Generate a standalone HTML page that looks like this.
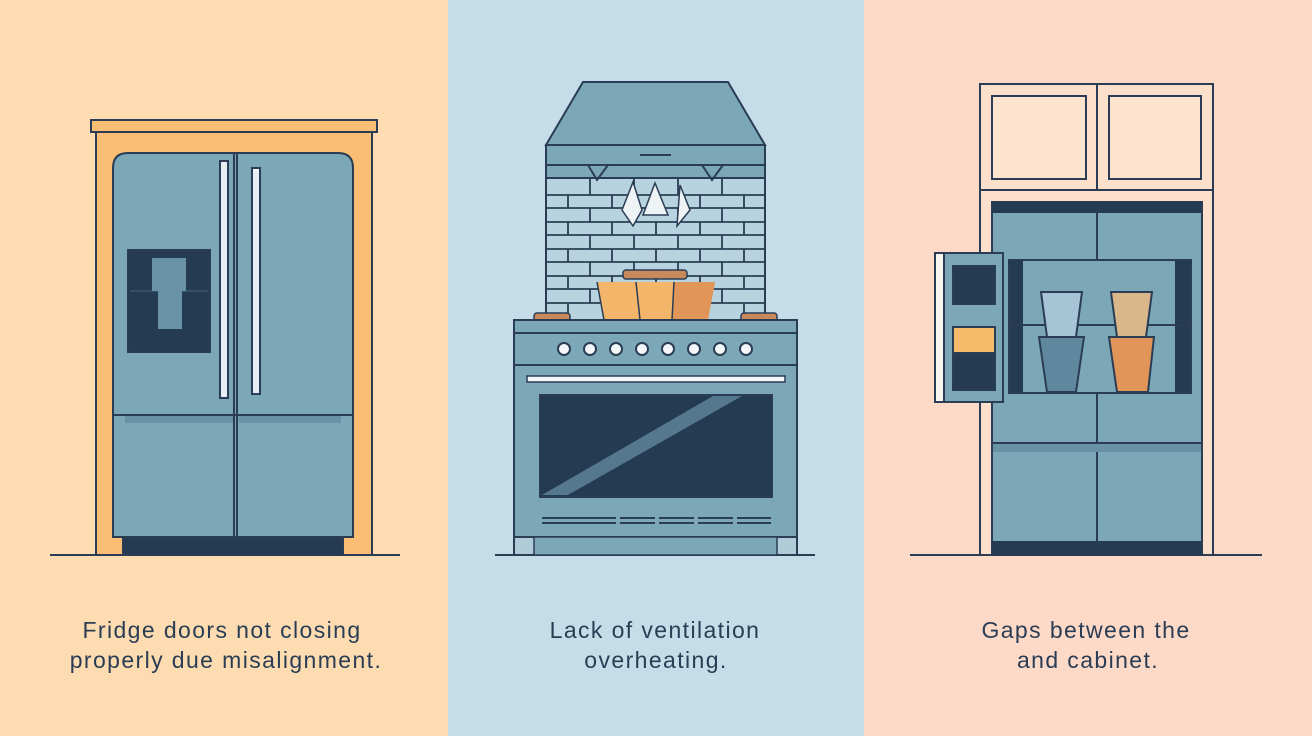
<!DOCTYPE html>
<html><head><meta charset="utf-8"><style>
body{margin:0;width:1312px;height:736px;overflow:hidden;font-family:"Liberation Sans",sans-serif}
</style></head><body>
<svg width="1312" height="736" viewBox="0 0 1312 736" xmlns="http://www.w3.org/2000/svg">
<rect x="0" y="0" width="448" height="736" fill="#fcdcb0"/>
<rect x="448" y="0" width="416" height="736" fill="#c4dde8"/>
<rect x="864" y="0" width="448" height="736" fill="#fdd9c8"/>
<g stroke="#2a3d55" stroke-width="2">
<!-- Panel 1 -->
<line x1="50" y1="555" x2="400" y2="555"/>
<rect x="96" y="132" width="276" height="423" fill="#f9bd74"/>
<rect x="91" y="120" width="286" height="12" fill="#f9bd74"/>
<path d="M113 537 V168 Q113 153 128 153 H338 Q353 153 353 168 V537 Z" fill="#7ba7b7"/>
<line x1="113" y1="415" x2="353" y2="415"/>
<line x1="234" y1="153" x2="234" y2="537"/><line x1="237" y1="153" x2="237" y2="537"/>
<rect x="125" y="416" width="108" height="7" fill="#6a92a6" stroke="none"/>
<rect x="239" y="416" width="102" height="7" fill="#6a92a6" stroke="none"/>
<rect x="220" y="161" width="8" height="237" fill="#e8eef4"/>
<rect x="252" y="168" width="8" height="226" fill="#e8eef4"/>
<rect x="128" y="250" width="82" height="102" fill="#243b52"/>
<line x1="130" y1="291" x2="208" y2="291" stroke="#3d5670" stroke-width="1.5"/>
<rect x="152" y="258" width="34" height="33" fill="#6a92a6" stroke="none"/>
<rect x="158" y="291" width="24" height="38" fill="#6a92a6" stroke="none"/>
<rect x="123" y="537" width="220" height="18" fill="#243b52"/>
<!-- Panel 2 -->
<line x1="495" y1="555" x2="815" y2="555"/>
<rect x="546" y="178" width="219" height="142" fill="#b8d3e0"/>
<g stroke-width="1.8">
<line x1="546" y1="195" x2="765" y2="195"/><line x1="546" y1="208" x2="765" y2="208"/>
<line x1="546" y1="222" x2="765" y2="222"/><line x1="546" y1="235" x2="765" y2="235"/>
<line x1="546" y1="249" x2="765" y2="249"/><line x1="546" y1="262" x2="765" y2="262"/>
<line x1="546" y1="276" x2="765" y2="276"/><line x1="546" y1="289" x2="765" y2="289"/>
<line x1="546" y1="303" x2="765" y2="303"/>
<path d="M590 178v17M634 178v17M678 178v17M722 178v17M568 195v13M612 195v13M656 195v13M700 195v13M744 195v13M590 208v14M634 208v14M678 208v14M722 208v14M568 222v13M612 222v13M656 222v13M700 222v13M744 222v13M590 235v14M634 235v14M678 235v14M722 235v14M568 249v13M612 249v13M656 249v13M700 249v13M744 249v13M590 262v14M634 262v14M678 262v14M722 262v14M568 276v13M612 276v13M656 276v13M700 276v13M744 276v13M590 289v14M634 289v14M678 289v14M722 289v14M568 303v17M744 303v17"/>
</g>
<path d="M583 82 H728 L765 145 H546 Z" fill="#7ba7b7"/>
<rect x="546" y="145" width="219" height="20" fill="#7ba7b7"/>
<rect x="546" y="165" width="219" height="13" fill="#7ba7b7"/>
<line x1="640" y1="155" x2="671" y2="155"/>
<path d="M588 165 L597 180 L608 165 M702 165 L712 180 L723 165" fill="none"/>
<g fill="#eef3f6" stroke-width="1.5">
<path d="M633 182 L622 210 L633 226 L642 210 Z"/><path d="M655 183 L643 215 L668 215 Z"/><path d="M680 185 L677 226 L690 210 Z"/>
</g>
<path d="M597 282 H715 L708 320 H604 Z" fill="#f3b56a" stroke="none"/>
<path d="M673 282 H715 L708 320 H672 Z" fill="#e29558" stroke="none"/>
<path d="M597 282 L604 320 M636 282 L640 320 M674 282 L672 320" fill="none" stroke-width="1.5"/>
<rect x="623" y="270" width="64" height="9" rx="3" fill="#c88a5a" stroke-width="1.5"/>
<rect x="534" y="313" width="36" height="9" rx="3" fill="#c88a5a" stroke-width="1.5"/>
<rect x="741" y="313" width="36" height="9" rx="3" fill="#c88a5a" stroke-width="1.5"/>
<rect x="514" y="320" width="283" height="217" fill="#7ba7b7"/>
<line x1="514" y1="333" x2="797" y2="333"/><line x1="514" y1="365" x2="797" y2="365"/>
<g fill="#f4f7f9"><circle cx="564" cy="349" r="6"/><circle cx="590" cy="349" r="6"/><circle cx="616" cy="349" r="6"/><circle cx="642" cy="349" r="6"/><circle cx="668" cy="349" r="6"/><circle cx="694" cy="349" r="6"/><circle cx="720" cy="349" r="6"/><circle cx="746" cy="349" r="6"/></g>
<rect x="527" y="376" width="258" height="6" fill="#f4f7f9" stroke-width="1.5"/>
<rect x="540" y="395" width="232" height="102" fill="#243b52"/>
<path d="M542 495 L713 396 L742 396 L568 495 Z" fill="#56788f" stroke="none"/>
<g stroke-width="2"><path d="M542 518h40M542 523h40M581 518h35M581 523h35M620 518h35M620 523h35M659 518h35M659 523h35M698 518h35M698 523h35M737 518h34M737 523h34"/></g>
<rect x="514" y="537" width="283" height="18" fill="#b0ccd9"/>
<rect x="534" y="537" width="243" height="18" fill="#7ba7b7" stroke-width="1.5"/>
<!-- Panel 3 -->
<line x1="910" y1="555" x2="1262" y2="555"/>
<rect x="980" y="84" width="233" height="471" fill="#fde0cc"/>
<line x1="980" y1="190" x2="1213" y2="190"/><line x1="1097" y1="84" x2="1097" y2="190"/>
<rect x="992" y="96" width="94" height="83" fill="#fee4cf"/>
<rect x="1109" y="96" width="92" height="83" fill="#fee4cf"/>
<rect x="992" y="202" width="210" height="353" fill="#7ba7b7"/>
<rect x="992" y="202" width="210" height="11" fill="#243b52" stroke="none"/>
<rect x="992" y="541" width="210" height="14" fill="#243b52" stroke="none"/>
<line x1="1097" y1="213" x2="1097" y2="541"/>
<line x1="992" y1="443" x2="1202" y2="443"/>
<rect x="993" y="444" width="208" height="8" fill="#6a92a6" stroke="none"/>
<rect x="1009" y="260" width="182" height="133" fill="#7ba7b7"/>
<rect x="1010" y="261" width="13" height="131" fill="#243b52" stroke="none"/>
<rect x="1175" y="261" width="15" height="131" fill="#243b52" stroke="none"/>
<line x1="1009" y1="325" x2="1191" y2="325"/>
<path d="M1041 292 H1082 L1076 337 H1047 Z" fill="#a7c3d6"/>
<path d="M1111 292 H1152 L1146 337 H1117 Z" fill="#d9b78a"/>
<path d="M1039 337 H1084 L1076 392 H1047 Z" fill="#5f889f"/>
<path d="M1109 337 H1154 L1148 392 H1117 Z" fill="#e29558"/>
<rect x="935" y="253" width="68" height="149" fill="#7ba7b7"/>
<rect x="936" y="254" width="8" height="147" fill="#f8f5ec" stroke="none"/>
<line x1="944" y1="253" x2="944" y2="402"/>
<rect x="953" y="266" width="42" height="38" fill="#243b52"/>
<rect x="953" y="327" width="42" height="26" fill="#f6bb6a"/>
<rect x="953" y="353" width="42" height="37" fill="#243b52"/>
</g>
<g font-size="23" fill="#2a3d55" text-anchor="middle" letter-spacing="1.4">
<text x="222" y="638">Fridge doors not closing</text>
<text x="226" y="668">properly due misalignment.</text>
<text x="655" y="638">Lack of ventilation</text>
<text x="656" y="668">overheating.</text>
<text x="1086" y="638">Gaps between the</text>
<text x="1088" y="668">and cabinet.</text>
</g>
</svg>
</body></html>
